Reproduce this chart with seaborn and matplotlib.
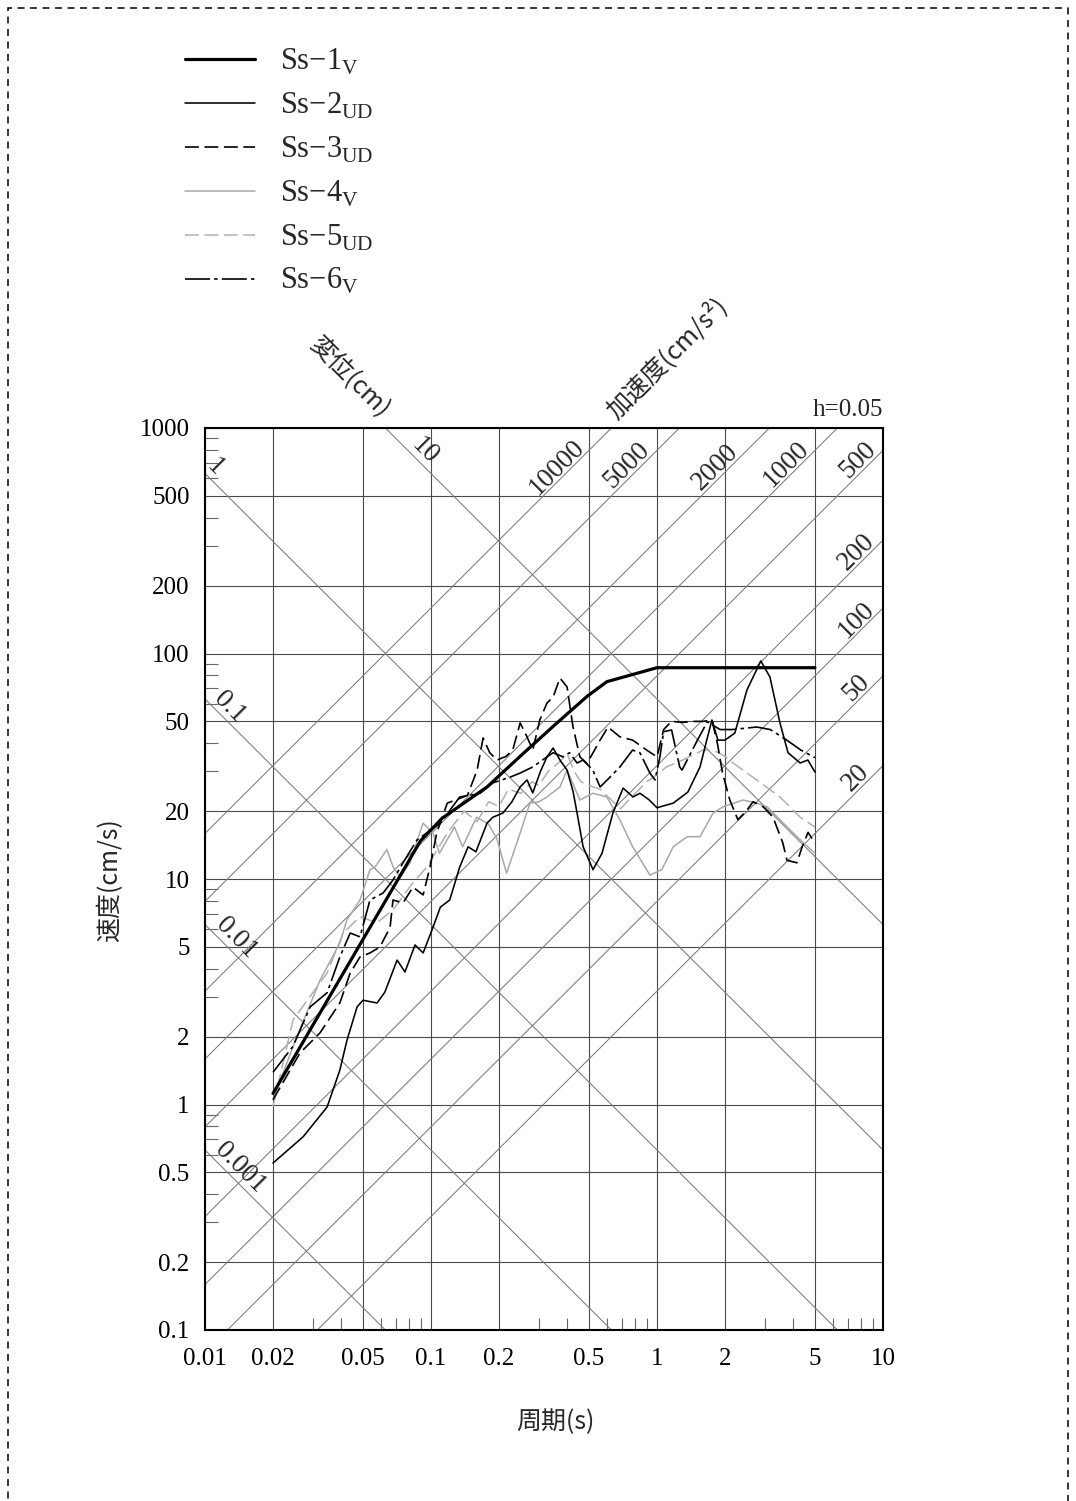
import numpy as np
import pandas as pd
import matplotlib
matplotlib.use("Agg")
import matplotlib.pyplot as plt
import seaborn as sns
from matplotlib.ticker import LogLocator, NullFormatter
from matplotlib.patches import Rectangle

# ---------------- data ----------------
x_ticks = [0.01, 0.02, 0.05, 0.1, 0.2, 0.5, 1, 2, 5, 10]
x_tick_labels = ["0.01", "0.02", "0.05", "0.1", "0.2", "0.5", "1", "2", "5", "10"]
y_ticks = [0.1, 0.2, 0.5, 1, 2, 5, 10, 20, 50, 100, 200, 500, 1000]
y_tick_labels = ["0.1", "0.2", "0.5", "1", "2", "5", "10", "20", "50", "100", "200", "500", "1000"]

accel_lines = [20, 50, 100, 200, 500, 1000, 2000, 5000, 10000]      # cm/s^2
disp_lines = [0.001, 0.01, 0.1, 1, 10]                               # cm

T1 = [0.02, 0.09, 0.112, 0.177, 0.248, 0.347, 0.49, 0.60, 1.0, 5.0]
V1 = [1.12, 14.8, 18.6, 25.6, 35.0, 47.5, 64.5, 75.0, 86.5, 86.5]

T2 = [0.02, 0.0272, 0.0347, 0.0395, 0.0425, 0.0471, 0.05, 0.0577, 0.0625, 0.0708,
      0.0767, 0.085, 0.0923, 0.101, 0.11, 0.121, 0.134, 0.146, 0.158, 0.177,
      0.188, 0.208, 0.228, 0.248, 0.266, 0.282, 0.305, 0.326, 0.347, 0.372,
      0.40, 0.425, 0.443, 0.471, 0.521, 0.571, 0.638, 0.708, 0.783, 0.84,
      0.92, 1.0, 1.18, 1.37, 1.55, 1.66, 1.75, 1.86, 2.0, 2.21,
      2.5, 2.88, 3.16, 3.5, 3.8, 4.3, 4.65, 5.0]
V2 = [0.55, 0.72, 0.975, 1.42, 1.93, 2.71, 2.9, 2.82, 3.15, 4.37,
      3.87, 5.1, 4.7, 5.94, 7.5, 8.07, 11.3, 13.9, 13.2, 17.7,
      18.8, 19.6, 22.0, 25.6, 27.5, 24.1, 30.0, 34.8, 38.1, 33.7,
      30.4, 24.5, 19.6, 13.9, 11.0, 13.0, 19.6, 25.3, 23.1, 24.0,
      22.5, 20.7, 21.7, 24.3, 31.4, 41.3, 50.7, 41.3, 41.3, 44.4,
      68.9, 92.7, 78.7, 49.2, 36.3, 32.7, 33.7, 29.8]

T3 = [0.02, 0.0263, 0.0323, 0.0395, 0.0439, 0.0485, 0.0537, 0.0594, 0.0659, 0.0679,
      0.0752, 0.0832, 0.0923, 0.099, 0.106, 0.118, 0.13, 0.145, 0.16, 0.17,
      0.182, 0.196, 0.215, 0.23, 0.248, 0.266, 0.282, 0.303, 0.326, 0.347,
      0.372, 0.40, 0.425, 0.456, 0.49, 0.56, 0.607, 0.685, 0.78, 0.9,
      1.0, 1.07, 1.16, 1.3, 1.45, 1.6, 1.75, 1.85, 1.95, 2.1,
      2.28, 2.5, 2.66, 2.95, 3.26, 3.6, 3.76, 4.16, 4.39, 4.66, 5.0]
V3 = [1.05, 1.69, 2.08, 2.82, 3.83, 4.51, 4.7, 4.99, 6.1, 8.07,
      7.83, 9.2, 8.5, 11.3, 16.0, 21.7, 22.5, 23.5, 30.4, 42.2,
      36.3, 33.7, 35.0, 37.3, 49.2, 42.7, 37.3, 50.7, 60.3, 64.1,
      77.8, 71.1, 47.2, 34.8, 32.5, 41.3, 47.2, 42.7, 41.3, 37.3,
      34.8, 46.0, 50.0, 49.5, 50.0, 50.0, 50.7, 40.0, 29.5, 22.4,
      18.3, 20.2, 22.0, 20.9, 18.8, 14.5, 12.1, 11.8, 13.9, 16.1, 14.4]

T4 = [0.02, 0.025, 0.0323, 0.0395, 0.0425, 0.0485, 0.0537, 0.0565, 0.0638, 0.068,
      0.073, 0.0807, 0.0922, 0.102, 0.109, 0.127, 0.138, 0.159, 0.18, 0.196,
      0.216, 0.248, 0.274, 0.3, 0.326, 0.372, 0.4, 0.456, 0.52, 0.6,
      0.685, 0.78, 0.9, 0.93, 1.05, 1.18, 1.36, 1.55, 1.77, 1.96,
      2.4, 2.77, 3.07, 3.5, 4.16, 5.0]
V4 = [1.05, 1.9, 3.56, 5.2, 6.6, 8.07, 11.0, 11.3, 13.5, 11.3,
      10.2, 11.8, 17.7, 16.0, 13.0, 17.0, 13.9, 18.8, 17.5, 15.0,
      10.6, 16.0, 21.7, 22.0, 23.1, 25.6, 30.4, 22.4, 24.0, 23.1,
      18.3, 13.9, 11.0, 10.4, 11.0, 13.9, 15.4, 15.4, 19.6, 20.9,
      22.4, 21.7, 20.9, 18.3, 15.4, 13.0]

T5 = [0.02, 0.0245, 0.0347, 0.0408, 0.0485, 0.0577, 0.0679, 0.083, 0.096, 0.118,
      0.14, 0.16, 0.18, 0.2, 0.22, 0.25, 0.28, 0.3, 0.33, 0.37,
      0.4, 0.43, 0.46, 0.5, 0.56, 0.69, 0.8, 0.9, 1.0, 1.1,
      1.3, 1.6, 1.8, 2.0, 2.17, 2.76, 3.5, 4.3, 5.0]
V5 = [0.98, 2.37, 3.83, 5.75, 6.8, 6.4, 7.3, 9.6, 11.3, 16.0,
      20.0, 18.0, 22.0, 21.0, 25.0, 24.0, 27.0, 26.0, 30.0, 33.0,
      36.0, 30.0, 27.0, 26.0, 25.0, 20.5, 24.0, 27.0, 29.0, 31.4,
      33.7, 37.3, 37.0, 35.0, 32.7, 27.5, 23.1, 18.8, 17.0]

T6 = [0.02, 0.0245, 0.0292, 0.0347, 0.0395, 0.0439, 0.0485, 0.0537, 0.0614, 0.0679,
      0.0752, 0.0867, 0.11, 0.134, 0.165, 0.188, 0.224, 0.248, 0.282, 0.326,
      0.347, 0.384, 0.41, 0.443, 0.471, 0.52, 0.56, 0.62, 0.685, 0.78,
      0.84, 0.93, 0.98, 1.03, 1.07, 1.16, 1.26, 1.29, 1.51, 1.67,
      1.9, 2.15, 2.76, 3.17, 3.75, 4.33, 5.0]
V6 = [1.39, 1.81, 2.71, 3.13, 4.51, 5.76, 5.54, 8.07, 8.67, 9.9,
      11.8, 14.9, 17.7, 23.1, 24.0, 26.7, 28.3, 29.5, 31.4, 34.8,
      36.3, 34.8, 36.3, 32.7, 33.7, 30.4, 25.6, 28.3, 31.4, 37.3,
      36.3, 29.5, 27.5, 34.8, 45.0, 45.8, 31.4, 30.4, 41.3, 49.8,
      46.0, 46.0, 47.2, 46.0, 41.3, 37.3, 34.5]

series_names = ["Ss−1$_{\\mathregular{V}}$", "Ss−2$_{\\mathregular{UD}}$",
                "Ss−3$_{\\mathregular{UD}}$", "Ss−4$_{\\mathregular{V}}$",
                "Ss−5$_{\\mathregular{UD}}$", "Ss−6$_{\\mathregular{V}}$"]

# ---------------- style ----------------
sns.set_theme(style="white")
plt.rcParams['font.family'] = ['Liberation Serif', 'Noto Sans CJK JP']
plt.rcParams['mathtext.fontset'] = 'custom'
plt.rcParams['mathtext.rm'] = 'Liberation Serif'
plt.rcParams['lines.scale_dashes'] = False
cjk = ['Noto Sans CJK JP', 'DejaVu Sans']

W, H = 1076, 1501
fig = plt.figure(figsize=(W / 100, H / 100), dpi=100)
ax = fig.add_axes([205 / W, 1 - 1330 / H, 678 / W, 902 / H])
ax.set_xscale('log')
ax.set_yscale('log')

# tripartite guide lines
T_span = np.array([0.005, 20.0])
for A in accel_lines:
    ax.plot(T_span, A * T_span / (2 * np.pi), color='#7a7a7a', lw=0.75, zorder=1)
for D in disp_lines:
    ax.plot(T_span, 2 * np.pi * D / T_span, color='#7a7a7a', lw=0.75, zorder=1)

# response spectra
styles = [
    dict(color='black', linewidth=2.3, dashes=None),
    dict(color='black', linewidth=1.15, dashes=None),
    dict(color='black', linewidth=1.2, dashes=(10, 4)),
    dict(color='#a8a8a8', linewidth=1.1, dashes=None),
    dict(color='#b0b0b0', linewidth=1.1, dashes=(10, 4)),
    dict(color='black', linewidth=1.2, dashes=(18, 3, 2.5, 3)),
]
data_sets = [(T1, V1), (T2, V2), (T3, V3), (T4, V4), (T5, V5), (T6, V6)]
zorders = [6, 5, 5, 3, 3, 5]
handles = []
for (T, V), st, z in zip(data_sets, styles, zorders):
    df = pd.DataFrame({"T": T, "V": V})
    sns.lineplot(data=df, x="T", y="V", ax=ax, estimator=None, sort=False,
                 color=st['color'], linewidth=st['linewidth'], zorder=z)
    ln = ax.lines[-1]
    if st['dashes'] is not None:
        ln.set_dashes(st['dashes'])
    handles.append(ln)

ax.set_xlim(0.01, 10)
ax.set_ylim(0.1, 1000)

# grid and ticks
ax.set_xticks(x_ticks, labels=x_tick_labels)
ax.set_yticks(y_ticks, labels=y_tick_labels)
ax.xaxis.set_minor_locator(LogLocator(base=10, subs=[3, 4, 6, 7, 8, 9], numticks=20))
ax.yaxis.set_minor_locator(LogLocator(base=10, subs=[3, 4, 6, 7, 8, 9], numticks=20))
ax.xaxis.set_minor_formatter(NullFormatter())
ax.yaxis.set_minor_formatter(NullFormatter())
ax.grid(True, which='major', color='#4a4a4a', lw=0.8, zorder=0)
ax.grid(False, which='minor')
ax.tick_params(which='major', length=0, labelsize=18, colors='black')
ax.tick_params(axis='x', which='major', pad=13)
ax.tick_params(axis='y', which='major', pad=11)
ax.tick_params(which='minor', direction='in', length=9, width=0.8, color='#666666',
               bottom=True, left=True, top=False, right=False)
for s in ax.spines.values():
    s.set_color('black')
    s.set_linewidth(1.5)
ax.set_axisbelow(True)

ax.set_xlabel("周期(s)", fontsize=18, family=cjk)
ax.set_ylabel("速度(cm/s)", fontsize=18, family=cjk)
ax.xaxis.set_label_coords((555 - 205) / 678, (1330 - 1409) / 902)
ax.yaxis.set_label_coords((123 - 205) / 678, (1330 - 880) / 902)

# guide line labels
accel_label_T = [7.6, 7.6, 7.6, 7.6, 7.74, 3.73, 1.81, 0.736, 0.361]
for A, Tl in zip(accel_lines, accel_label_T):
    ax.annotate(str(A), xy=(Tl, A * Tl / (2 * np.pi)), xytext=(0, 15),
                textcoords='offset pixels', rotation=45, ha='center', va='center',
                fontsize=19.5, zorder=7)
disp_label_T = [0.0143, 0.0137, 0.0129, 0.0111, 0.094]
for D, Tl in zip(disp_lines, disp_label_T):
    ax.annotate(f"{D:g}", xy=(Tl, 2 * np.pi * D / Tl), xytext=(0, 17),
                textcoords='offset pixels', rotation=-45, ha='center', va='center',
                fontsize=19.5, zorder=7)

fig.text(883 / W, 1 - 410 / H, "h=0.05", ha='right', va='center', fontsize=18)
fig.text(350 / W, 1 - 378 / H, "変位(cm)", rotation=-45, ha='center', va='center',
         fontsize=18, family=cjk)
fig.text(667 / W, 1 - 358 / H, "加速度(cm/s²)", rotation=45, ha='center', va='center',
         fontsize=18, family=cjk)

# legend
fig.legend(handles, series_names, loc='upper left', bbox_to_anchor=(185 / W, 1 - 47 / H),
           frameon=False, fontsize=22, handlelength=2.3, handletextpad=0.82,
           labelspacing=0.45, borderaxespad=0, borderpad=0)

# dashed page border
fig.patches.append(Rectangle((8 / W, -0.05), 1060 / W, 1 - 8 / H + 0.05,
                             transform=fig.transFigure, fill=False, ec='black',
                             lw=1.1, ls=(0, (5, 4)), clip_on=False))

fig.savefig("out.png", dpi=100)
